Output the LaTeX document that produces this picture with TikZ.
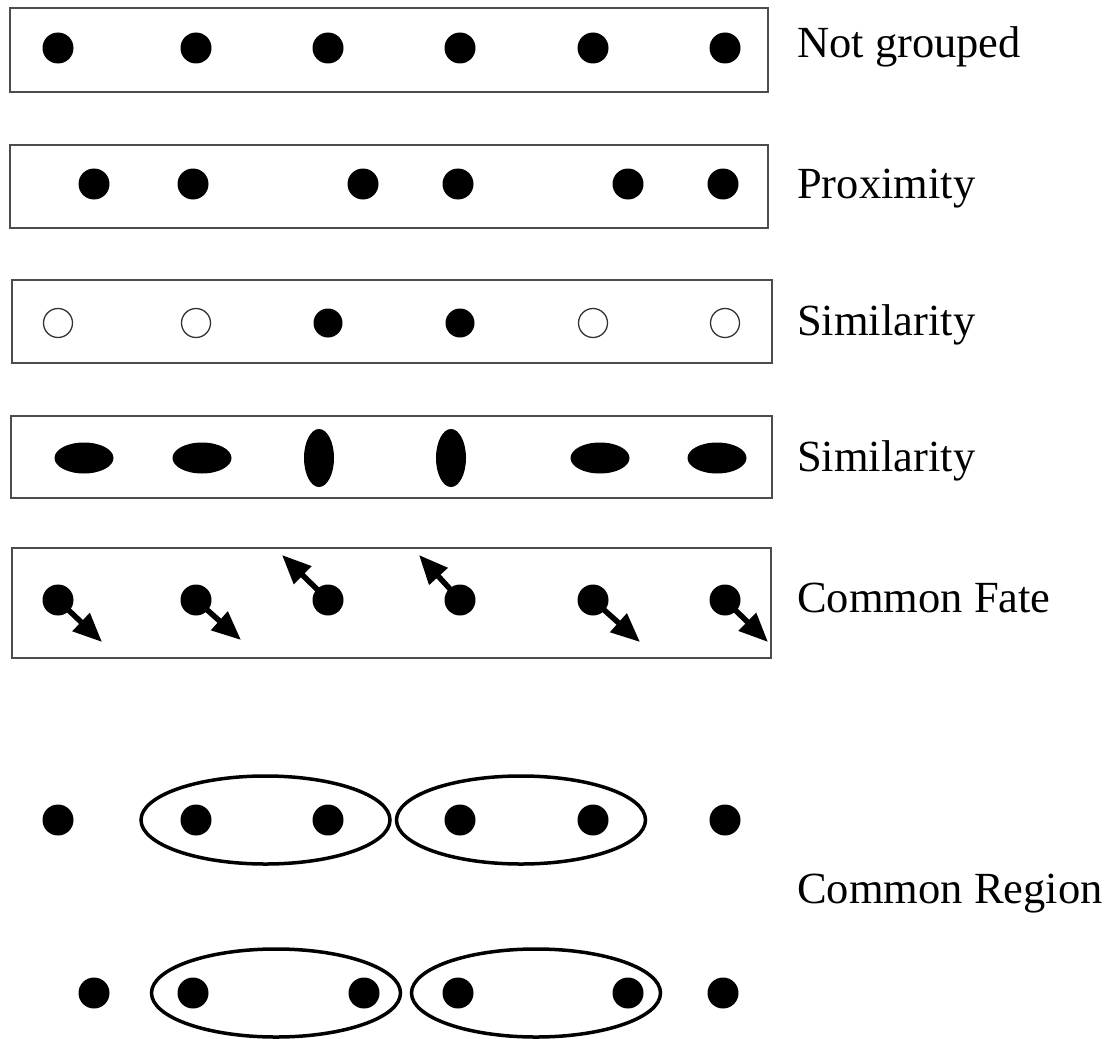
\documentclass[tikz,border=0pt]{standalone}
\usepackage{fontspec}
\setmainfont{Liberation Serif}
\usetikzlibrary{shapes.geometric,arrows.meta}
\begin{document}
\begin{tikzpicture}[x=1pt,y=-1pt,
  frame/.style={draw=black!70,line width=2pt},
  dot/.style={circle,fill=black,inner sep=0pt,minimum size=31pt},
  odot/.style={circle,draw=black!80,line width=1.3pt,fill=white,inner sep=0pt,minimum size=29pt},
  hell/.style={ellipse,fill=black,inner sep=0pt,minimum width=59pt,minimum height=31pt},
  vell/.style={ellipse,fill=black,inner sep=0pt,minimum width=30pt,minimum height=58pt},
  region/.style={ellipse,draw=black,line width=3.5pt,inner sep=0pt,minimum width=249pt,minimum height=88pt},
  fate/.style={line width=5.5pt,-{Triangle[length=29pt,width=24pt]}},
  lbl/.style={anchor=base west,inner sep=0pt,font=\fontsize{44.5}{50}\selectfont}
]
\useasboundingbox (0,0) rectangle (1110,1038);

% Row 1: Not grouped
\node[frame,minimum width=758pt,minimum height=84pt,inner sep=0pt] (b1) at (389,50) {};
\foreach \x [count=\i] in {58,196,328,460,593,725} \node[dot] (r1d\i) at (\x,48) {};
\node[lbl] (t1) at (797,58) {Not grouped};

% Row 2: Proximity
\node[frame,minimum width=758pt,minimum height=83pt,inner sep=0pt] (b2) at (389,186.5) {};
\foreach \x [count=\i] in {94,193,363,458,628,723} \node[dot] (r2d\i) at (\x,184) {};
\node[lbl] (t2) at (797,198) {Proximity};

% Row 3: Similarity (filled / open)
\node[frame,minimum width=760pt,minimum height=83pt,inner sep=0pt] (b3) at (391.5,321.5) {};
\node[odot] (r3d1) at (58,323) {};
\node[odot] (r3d2) at (196,323) {};
\node[dot,minimum size=29pt] (r3d3) at (328,323) {};
\node[dot,minimum size=29pt] (r3d4) at (460,323) {};
\node[odot] (r3d5) at (593,323) {};
\node[odot] (r3d6) at (725,323) {};
\node[lbl] (t3) at (797,335) {Similarity};

% Row 4: Similarity (orientation)
\node[frame,minimum width=761pt,minimum height=82pt,inner sep=0pt] (b4) at (391.5,457) {};
\node[hell] (r4d1) at (84,458) {};
\node[hell] (r4d2) at (202,458) {};
\node[vell] (r4d3) at (319,458) {};
\node[vell] (r4d4) at (451,458) {};
\node[hell] (r4d5) at (600,458) {};
\node[hell] (r4d6) at (717,458) {};
\node[lbl] (t4) at (797,471) {Similarity};

% Row 5: Common Fate
\node[frame,minimum width=759pt,minimum height=110pt,inner sep=0pt] (b5) at (391.5,603) {};
\foreach \x [count=\i] in {58,196,328,460,593,725} \node[dot] (r5d\i) at (\x,600) {};
\coordinate (f1) at (102,642);
\coordinate (f2) at (241,640);
\coordinate (f3) at (282,555);
\coordinate (f4) at (419,555);
\coordinate (f5) at (640,642);
\coordinate (f6) at (768,642);
\foreach \i in {1,...,6} \draw[fate] (r5d\i.center) -- (f\i);
\node[lbl] (t5) at (797,612) {Common Fate};

% Rows 6-7: Common Region
\node[region] (e1) at (265.5,820) {};
\node[region] (e2) at (521,820) {};
\foreach \x [count=\i] in {58,196,328,460,593,725} \node[dot] (r6d\i) at (\x,820) {};
\node[region] (e3) at (276,993) {};
\node[region] (e4) at (536,993) {};
\foreach \x [count=\i] in {94,193,364,458,628,723} \node[dot] (r7d\i) at (\x,993) {};
\node[lbl] (t6) at (797,903) {Common Region};
\end{tikzpicture}
\end{document}
